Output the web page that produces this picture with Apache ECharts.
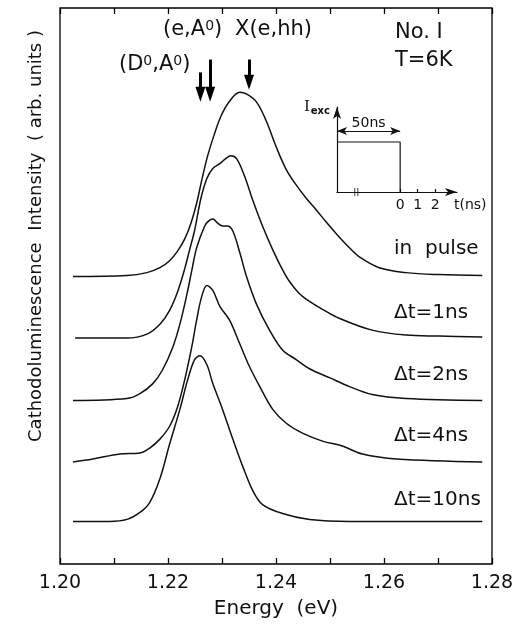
<!DOCTYPE html>
<html>
<head>
<meta charset="utf-8">
<script src="https://cdn.jsdelivr.net/npm/echarts@6/dist/echarts.min.js"></script>
<style>
  html, body { margin: 0; padding: 0; background: #fff; }
  #chart { width: 526px; height: 624px; }
</style>
</head>
<body>
<div id="chart"></div>
<script>
// --- CL spectra: energy (eV) / intensity above own baseline (arb. units) ---
const ePulse = [1.2024,1.2124,1.2161,1.2185,1.2203,1.2218,1.2231,1.2242,1.2253,1.2262,1.2273,1.2286,1.2299,1.2314,1.2333,1.2346,1.2364,1.2382,1.2401,1.2419,1.2438,1.2456,1.2475,1.2493,1.2512,1.2536,1.2554,1.2591,1.2641,1.2702,1.2782];
const iPulse = [0,1,4,9,16,26,38,53,74,96,121,144,163,177,186,184,176,157,130,108,92,79,67,55,43,29,20,9,4,2,1];

const eDt1 = [1.2028,1.2124,1.2161,1.2185,1.2203,1.2218,1.2231,1.2240,1.2249,1.2261,1.2272,1.2283,1.2296,1.2307,1.2316,1.2327,1.2342,1.2357,1.2375,1.2394,1.2412,1.2425,1.2443,1.2462,1.2486,1.2517,1.2578,1.2641,1.2702,1.2782];
const iDt1 = [0,0,4,14,28,47,70,89,108,141,161,171,176,181,184,181,163,139,113,89,69,57,45,37,29,20,8,3,2,1];

const eDt2 = [1.2024,1.2124,1.2148,1.2172,1.2190,1.2209,1.2222,1.2235,1.2244,1.2253,1.2268,1.2275,1.2283,1.2292,1.2301,1.2310,1.2320,1.2333,1.2346,1.2364,1.2388,1.2412,1.2438,1.2462,1.2499,1.2536,1.2578,1.2641,1.2782];
const iDt2 = [0,2,7,17,31,54,77,107,131,154,176,181,183,179,176,176,171,149,124,97,71,51,41,32,23,14,6,2,0];

const eDt4 = [1.2024,1.2061,1.2111,1.2148,1.2166,1.2185,1.2203,1.2218,1.2231,1.2244,1.2253,1.2262,1.2272,1.2283,1.2296,1.2314,1.2333,1.2351,1.2370,1.2394,1.2419,1.2449,1.2486,1.2523,1.2560,1.2623,1.2782];
const iDt4 = [0,3,8,9,14,23,36,56,83,116,143,166,178,173,157,143,119,96,76,53,39,29,21,16,8,3,0];

const eDt10 = [1.2024,1.2092,1.2124,1.2148,1.2166,1.2185,1.2203,1.2222,1.2236,1.2249,1.2259,1.2272,1.2283,1.2301,1.2320,1.2338,1.2357,1.2375,1.2412,1.2462,1.2536,1.2782];
const iDt10 = [0,0,2,9,19,43,78,113,142,163,167,158,139,113,83,56,31,17,8,2,0,0];

const traceNames = ['in  pulse', 'Δt=1ns', 'Δt=2ns', 'Δt=4ns', 'Δt=10ns'];
const traceOffsets = [290, 228, 165, 103, 43];
const traceE = [ePulse, eDt1, eDt2, eDt4, eDt10];
const traceI = [iPulse, iDt1, iDt2, iDt4, iDt10];

// arrows marking the transitions
const arrowEnergy = [1.2260, 1.2278, 1.2350];
const arrowTop = [496, 509, 509];
const arrowEnd = [474, 474, 486];

// x axis
const eMin = 1.20, eMax = 1.28, eStep = 0.01;

// inset: excitation pulse (time axis broken, ns)
const pulseT = [-3.6, 0, 0];
const pulseI = [1, 1, 0];
const insetTicks = [0, 1, 2];
const breakAt = [-2.5];

const FONT = 'DejaVu Sans';
const INK = '#111';

const chart = echarts.init(document.getElementById('chart'));

const series = traceE.map((es, k) => ({
    name: traceNames[k],
    type: 'line',
    xAxisIndex: 0,
    yAxisIndex: 0,
    data: es.map((e, i) => [e, traceOffsets[k] + traceI[k][i]]),
    showSymbol: false,
    smooth: 0.35,
    silent: true,
    lineStyle: { color: INK, width: 1.5 }
}));

// arrows on the first trace
series[0].markLine = {
    silent: true,
    symbol: ['none', 'triangle'],
    symbolSize: [10, 15],
    label: { show: false },
    lineStyle: { color: '#000', width: 3, type: 'solid' },
    data: arrowEnergy.map((e, i) => [{ coord: [e, arrowTop[i]] }, { coord: [e, arrowEnd[i]] }])
};

// inset pulse
series.push({
    type: 'line',
    xAxisIndex: 2,
    yAxisIndex: 1,
    data: pulseT.map((t, i) => [t, pulseI[i]]),
    showSymbol: false,
    silent: true,
    lineStyle: { color: INK, width: 1.2 },
    markLine: {
        silent: true,
        symbol: ['arrow', 'arrow'],
        symbolSize: [6, 10],
        lineStyle: { color: INK, width: 1.2, type: 'solid' },
        label: { show: true, position: 'insideMiddleTop', formatter: '50ns', fontFamily: FONT, fontSize: 14, color: INK, distance: 1 },
        data: [[{ coord: [pulseT[0], 1.22] }, { coord: [0, 1.22] }]]
    }
});
series.push({
    type: 'scatter',
    xAxisIndex: 2,
    yAxisIndex: 1,
    data: breakAt.map(t => [t, 0]),
    symbol: 'path://M0,0h1v8h-1zM3,0h1v8h-1z',
    symbolSize: [4, 8],
    silent: true,
    itemStyle: { color: INK }
});

const sup = { fontFamily: FONT, fontSize: 14, color: INK, verticalAlign: 'top', lineHeight: 14 };
const txt = (left, cy, text, size, rich) => ({
    type: 'text', left: left, top: cy - size * 0.6,
    style: { text: text, fill: INK, font: size + 'px "' + FONT + '"', rich: rich }
});

const option = {
    animation: false,
    backgroundColor: '#fff',
    grid: [
        { left: 60, right: 34, top: 8, bottom: 55, show: true, borderColor: '#000', borderWidth: 1.3, backgroundColor: 'transparent' },
        { left: 337, top: 107, width: 120, height: 85 }
    ],
    xAxis: [
        {
            gridIndex: 0, type: 'value', min: eMin, max: eMax, interval: eStep,
            name: 'Energy  (eV)', nameLocation: 'middle', nameGap: 35,
            nameTextStyle: { fontFamily: FONT, fontSize: 20, color: INK },
            axisLine: { show: false },
            axisTick: { show: true, inside: true, length: 6, lineStyle: { color: '#000', width: 1.3 } },
            axisLabel: {
                fontFamily: FONT, fontSize: 19, color: INK, margin: 10,
                formatter: v => { const k = Math.round(v * 100); return k % 2 === 0 ? (k / 100).toFixed(2) : ''; }
            },
            splitLine: { show: false }
        },
        {
            gridIndex: 0, type: 'value', position: 'top', min: eMin, max: eMax, interval: eStep,
            axisLine: { show: false },
            axisTick: { show: true, inside: true, length: 6, lineStyle: { color: '#000', width: 1.3 } },
            axisLabel: { show: false },
            splitLine: { show: false }
        },
        {
            gridIndex: 1, type: 'value', min: -3.6, max: 3.24,
            name: 't(ns)', nameLocation: 'end', nameGap: -3,
            nameTextStyle: { fontFamily: FONT, fontSize: 14, color: INK, align: 'left', verticalAlign: 'top', padding: [6, 0, 0, 0] },
            axisLine: { show: true, onZero: false, symbol: ['none', 'arrow'], symbolSize: [6, 12], lineStyle: { color: INK, width: 1.2 } },
            axisTick: { show: true, inside: true, length: 3, customValues: insetTicks, lineStyle: { color: INK, width: 1.2 } },
            axisLabel: { show: true, customValues: insetTicks, fontFamily: FONT, fontSize: 14, color: INK, margin: 6 },
            splitLine: { show: false }
        }
    ],
    yAxis: [
        {
            gridIndex: 0, type: 'value', min: 0, max: 561,
            name: 'Cathodoluminescence  Intensity  ( arb. units )',
            nameLocation: 'middle', nameGap: 15,
            nameTextStyle: { fontFamily: FONT, fontSize: 18, color: INK, padding: [0, 0, 0, 100] },
            axisLine: { show: false },
            axisTick: { show: false },
            axisLabel: { show: false },
            splitLine: { show: false }
        },
        {
            gridIndex: 1, type: 'value', min: 0, max: 1.7,
            name: '{i|I}{s|exc}', nameLocation: 'end', nameGap: 0,
            nameTextStyle: {
                align: 'right', verticalAlign: 'middle', padding: [0, 7, 0, 0],
                rich: {
                    i: { fontFamily: 'DejaVu Serif', fontSize: 15, color: INK },
                    s: { fontFamily: FONT, fontSize: 10, fontWeight: 'bold', color: INK, padding: [8, 0, 0, 1] }
                }
            },
            axisLine: { show: true, onZero: false, symbol: ['none', 'arrow'], symbolSize: [6, 12], lineStyle: { color: INK, width: 1.2 } },
            axisTick: { show: false },
            axisLabel: { show: false },
            splitLine: { show: false }
        }
    ],
    graphic: [
        txt(163, 32, '(e,A{s|0})', 21, { s: sup }),
        txt(235, 32, 'X(e,hh)', 21),
        txt(119, 67, '(D{s|0},A{s|0})', 21, { s: sup }),
        txt(395, 35, 'No. I', 21),
        txt(395, 63, 'T=6K', 21),
        txt(394, 251, traceNames[0], 20),
        txt(394, 315, traceNames[1], 20),
        txt(394, 377, traceNames[2], 20),
        txt(394, 438, traceNames[3], 20),
        txt(394, 502, traceNames[4], 20)
    ],
    series: series
};

chart.setOption(option);
</script>
</body>
</html>
